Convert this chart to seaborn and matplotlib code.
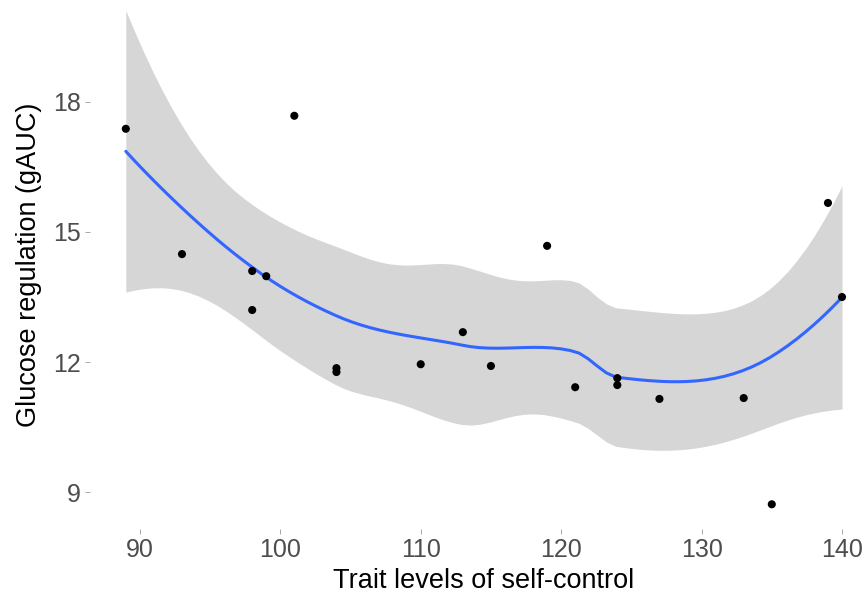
import math
import numpy as np
import pandas as pd
import matplotlib
matplotlib.use("Agg")
import matplotlib.pyplot as plt
import seaborn as sns

# ==========================================
# Data
# ==========================================

self_control = [89, 93, 98, 98, 99, 101, 104, 104, 110, 113,
                115, 119, 121, 124, 124, 127, 133, 135, 139, 140]
gauc = [17.38, 14.49, 14.10, 13.20, 13.98, 17.68, 11.86, 11.77, 11.95, 12.69,
        11.91, 14.68, 11.42, 11.63, 11.47, 11.15, 11.17, 8.72, 15.67, 13.50]

x_ticks = [90, 100, 110, 120, 130, 140]
y_ticks = [9, 12, 15, 18]

df = pd.DataFrame({"self_control": self_control, "gauc": gauc})


# ==========================================
# LOESS like R's loess() default (span 0.75, degree 2,
# kd-tree vertices + cubic Hermite interpolation)
# ==========================================

def local_ops(x, x0, span=0.75):
    # rows giving fitted value and slope at x0 as linear maps of y
    n = len(x)
    q = int(math.floor(n * span))
    d = np.abs(x - x0)
    h = np.sort(d)[q - 1]
    w = np.clip(1 - (d / h) ** 3, 0, None) ** 3
    X = np.column_stack([np.ones(n), x - x0, (x - x0) ** 2])
    XtW = X.T * w
    op = np.linalg.solve(XtW @ X, XtW)
    return op[0], op[1]


def kd_vertices(xs, span=0.75, cell=0.2):
    n = len(xs)
    fc = int(math.floor(n * span * cell))
    mu = 0.005 * (xs[-1] - xs[0])
    verts = {xs[0] - mu, xs[-1] + mu}

    def split(lo, hi, a, b):
        if hi - lo + 1 <= fc:
            return
        m = (lo + hi) // 2
        off = 0
        while lo <= m + off < hi:
            if xs[m + off] == xs[m + off + 1]:
                off = -off
                if off >= 0:
                    off += 1
            else:
                m = m + off
                break
        v = xs[m]
        if v == a or v == b:
            return
        verts.add(v)
        split(lo, m, a, v)
        split(m + 1, hi, v, b)

    split(0, n - 1, xs[0] - mu, xs[-1] + mu)
    return np.array(sorted(verts))


def interp_rows(x, verts, z):
    vals, slopes = zip(*[local_ops(x, v) for v in verts])
    vals, slopes = np.array(vals), np.array(slopes)
    rows = []
    for z0 in z:
        j = min(max(np.searchsorted(verts, z0) - 1, 0), len(verts) - 2)
        h = verts[j + 1] - verts[j]
        u = (z0 - verts[j]) / h
        phi0 = (1 - u) ** 2 * (1 + 2 * u)
        phi1 = u ** 2 * (3 - 2 * u)
        psi0 = u * (1 - u) ** 2
        psi1 = -u ** 2 * (1 - u)
        rows.append(phi0 * vals[j] + phi1 * vals[j + 1]
                    + (psi0 * slopes[j] + psi1 * slopes[j + 1]) * h)
    return np.array(rows)


def t_quantile(p, dof):
    c = math.gamma((dof + 1) / 2) / (math.sqrt(dof * math.pi) * math.gamma(dof / 2))
    grid = np.linspace(0, 10, 20001)
    pdf = c * (1 + grid ** 2 / dof) ** (-(dof + 1) / 2)
    cdf = 0.5 + np.concatenate([[0], np.cumsum((pdf[1:] + pdf[:-1]) / 2 * np.diff(grid))])
    return float(np.interp(p, cdf, grid))


x = df["self_control"].to_numpy(float)
y = df["gauc"].to_numpy(float)
verts = kd_vertices(np.sort(x))

L = interp_rows(x, verts, x)
resid = y - L @ y
I = np.eye(len(x))
M = (I - L).T @ (I - L)
delta1 = np.trace(M)
delta2 = np.trace(M @ M)
s = math.sqrt(np.sum(resid ** 2) / delta1)
tq = t_quantile(0.975, delta1 ** 2 / delta2)

x_grid = np.linspace(x.min(), x.max(), 80)
L_grid = interp_rows(x, verts, x_grid)
fit = L_grid @ y
se = s * np.sqrt(np.sum(L_grid ** 2, axis=1))
lower = fit - tq * se
upper = fit + tq * se

# ==========================================
# Plot
# ==========================================

sns.set_style("white")
plt.rcParams["font.family"] = ["Liberation Sans", "DejaVu Sans"]

fig = plt.figure(figsize=(8.67, 5.94), dpi=100)
ax = fig.add_axes([90 / 867, 65 / 594, 777 / 867, 529 / 594])

ax.fill_between(x_grid, lower, upper, color="#999999", alpha=0.4, linewidth=0)
ax.plot(x_grid, fit, color="#3366FF", linewidth=2.2)
sns.scatterplot(data=df, x="self_control", y="gauc", color="black",
                s=34, edgecolor="none", ax=ax, zorder=3)

ax.set_xlim(86.45, 141.78)
ax.set_ylim(8.15, 20.35)
ax.set_xticks(x_ticks)
ax.set_yticks(y_ticks)

for side in ax.spines.values():
    side.set_visible(False)

ax.tick_params(axis="both", length=3.5, width=0.6, color="#9A9A9A",
               labelcolor="#4D4D4D", labelsize=18, pad=3)
ax.tick_params(axis="x", bottom=True)
ax.tick_params(axis="y", left=True)

ax.set_xlabel("Trait levels of self-control", fontsize=19.5, color="black", labelpad=4)
ax.set_ylabel("Glucose regulation (gAUC)", fontsize=19.5, color="black", labelpad=8)
# panel in the original runs a little past the right edge; centre title on it
ax.xaxis.label.set_x(0.507)

fig.savefig("out.png", dpi=100)
